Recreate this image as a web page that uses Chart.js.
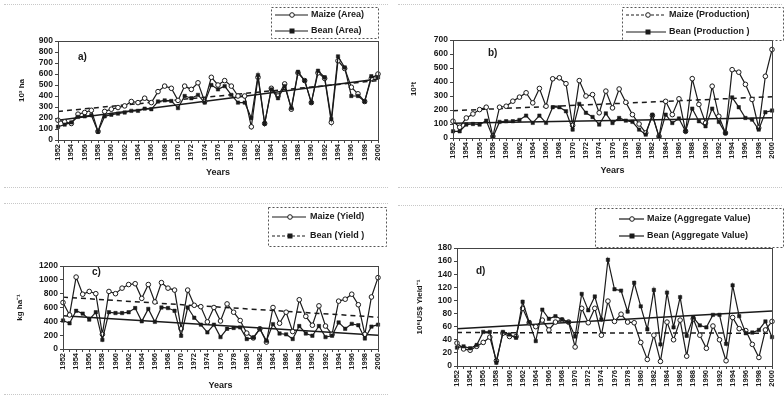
<!DOCTYPE html>
<html>
<head>
<meta charset="utf-8">
<script src="https://cdn.jsdelivr.net/npm/chart.js@4.4.1/dist/chart.umd.min.js"></script>
<style>
  html, body { margin: 0; padding: 0; background: #fff; }
  body { width: 784px; height: 398px; position: relative; overflow: hidden; }
  .panel { position: absolute; }
  .panel canvas { display: block; }
  .frame { position: absolute; border-top: 1px dotted #c8c8c8; border-bottom: 1px dotted #c8c8c8; }
</style>
</head>
<body>
<div class="frame" style="left:4px;top:4px;width:384px;height:182px;"></div>
<div class="frame" style="left:398px;top:4px;width:384px;height:182px;"></div>
<div class="frame" style="left:4px;top:203px;width:384px;height:190px;"></div>
<div class="frame" style="left:398px;top:205px;width:384px;height:192px;"></div>
<div class="panel" style="left:0;top:0;"><canvas id="ca" width="392" height="190"></canvas></div>
<div class="panel" style="left:394px;top:0;"><canvas id="cb" width="390" height="190"></canvas></div>
<div class="panel" style="left:0;top:200px;"><canvas id="cc" width="392" height="198"></canvas></div>
<div class="panel" style="left:394px;top:200px;"><canvas id="cd" width="390" height="198"></canvas></div>
<script>
// ---------- DATA ----------
const years = ['1952','1953','1954','1955','1956','1957','1958','1959','1960','1961',
  '1962','1963','1964','1965','1966','1967','1968','1969','1970','1971',
  '1972','1973','1974','1975','1976','1977','1978','1979','1980','1981',
  '1982','1983','1984','1985','1986','1987','1988','1989','1990','1991',
  '1992','1993','1994','1995','1996','1997','1998','1999','2000'];

// a) Area (10^3 ha)
const maizeArea = [180,165,150,235,250,270,78,260,280,295,
  310,350,340,380,340,440,490,470,360,490,
  460,520,350,570,500,540,490,400,400,120,
  570,150,470,400,510,280,610,540,340,610,
  560,160,720,650,480,420,350,560,600];
const beanArea = [120,140,160,210,215,225,75,215,230,240,
  250,265,265,285,280,350,360,355,290,400,
  380,410,340,500,460,490,410,340,340,200,
  590,150,460,380,490,290,620,540,340,630,
  570,190,760,660,400,400,350,580,570];
const maizeAreaTrend = [260, 540];
const beanAreaTrend = [180, 555];

// b) Production (10^3 t)
const maizeProd = [120,77,143,172,203,220,12,220,227,263,
  292,323,251,354,227,423,430,388,90,410,
  300,310,180,335,215,350,255,167,100,36,
  160,12,262,167,280,48,424,240,107,370,
  155,36,488,470,383,275,72,441,632];
const beanProd = [48,48,96,100,96,124,5,115,120,120,
  129,160,108,160,108,220,220,191,60,244,
  180,150,96,176,107,143,124,115,60,24,
  167,5,167,107,139,48,210,120,84,210,
  115,33,290,220,143,131,60,184,196];
const maizeProdTrend = [195, 295];
const beanProdTrend = [105, 145];

// c) Yield (kg ha^-1)
const maizeYield = [672,492,1040,792,832,800,212,832,800,880,
  932,944,732,932,680,960,880,852,292,852,
  632,612,392,600,405,652,532,412,230,160,
  292,100,600,372,532,252,712,472,344,624,
  332,212,692,720,792,640,212,752,1032];
const beanYield = [412,372,552,512,424,532,132,532,520,520,
  532,592,400,580,392,600,592,552,192,600,
  452,352,240,352,172,292,304,312,144,164,
  292,120,360,224,212,144,332,224,192,332,
  172,192,384,292,364,344,152,324,352];
const maizeYieldTrend = [750, 460];
const beanYieldTrend = [480, 200];

// d) Aggregate value (10^6 US$ Yield^-1)
const maizeValue = [35,26,24,30,36,44,8,50,45,45,
  88,66,60,70,55,67,70,67,29,88,
  66,88,47,99,68,79,67,66,36,10,
  47,7,67,40,70,15,72,47,27,61,
  40,8,74,57,54,33,13,55,68];
const beanValue = [28,30,27,32,52,52,5,52,48,43,
  98,67,38,86,72,76,71,67,45,110,
  85,106,71,162,117,115,83,127,91,56,
  116,33,112,59,105,46,74,62,59,78,
  78,34,123,76,50,51,55,68,44];
const maizeValueTrend = [51, 50];
const beanValueTrend = [57, 84];

// ---------- HELPERS ----------
const INK = '#1a1a1a';
const FONT = "'Liberation Sans', Arial, sans-serif";

const framePlugin = {
  id: 'frameAndLegend',
  afterDraw(chart, args, opts) {
    const ctx = chart.ctx;
    const a = chart.chartArea;
    ctx.save();
    ctx.strokeStyle = '#444';
    ctx.lineWidth = 1;
    ctx.strokeRect(Math.round(a.left) + 0.5, Math.round(a.top) + 0.5,
      Math.round(a.right - a.left), Math.round(a.bottom - a.top));
    ctx.fillStyle = INK;
    ctx.font = "bold 10px " + FONT;
    ctx.textBaseline = 'middle';
    ctx.fillText(opts.letter, opts.letterX, opts.letterY);
    const b = opts.box;
    ctx.setLineDash([2, 2]);
    ctx.strokeStyle = '#555';
    ctx.strokeRect(b.x + 0.5, b.y + 0.5, b.w, b.h);
    ctx.setLineDash([]);
    opts.entries.forEach(e => {
      ctx.strokeStyle = INK;
      ctx.lineWidth = 1.2;
      ctx.setLineDash(e.dash || []);
      ctx.beginPath();
      ctx.moveTo(opts.lx1, e.y);
      ctx.lineTo(opts.lx2, e.y);
      ctx.stroke();
      ctx.setLineDash([]);
      if (e.marker === 'circle') {
        ctx.beginPath();
        ctx.arc(opts.mx, e.y, 2.3, 0, Math.PI * 2);
        ctx.fillStyle = '#fff';
        ctx.fill();
        ctx.lineWidth = 1;
        ctx.stroke();
      } else {
        ctx.fillStyle = INK;
        ctx.fillRect(opts.mx - 2.5, e.y - 2.5, 5, 5);
      }
      ctx.fillStyle = INK;
      ctx.font = "bold " + opts.fontSize + "px " + FONT;
      ctx.textBaseline = 'middle';
      ctx.fillText(e.text, opts.tx, e.y);
    });
    ctx.restore();
  }
};

function trendData(vals) {
  return [{x: years[0], y: vals[0]}, {x: years[years.length - 1], y: vals[1]}];
}

function makePanel(id, p) {
  const canvas = document.getElementById(id);
  const W = canvas.width, H = canvas.height;
  return new Chart(canvas, {
    type: 'line',
    data: {
      labels: years,
      datasets: [
        { label: p.maizeLabel, data: p.maize, borderColor: INK, borderWidth: 1.2,
          pointStyle: 'circle', pointRadius: 2.3, pointBackgroundColor: '#fff',
          pointBorderColor: INK, pointBorderWidth: 1, tension: 0, order: 2 },
        { label: p.beanLabel, data: p.bean, borderColor: INK, borderWidth: 1.2,
          pointStyle: 'rect', pointRadius: 2.4, pointBackgroundColor: INK,
          pointBorderColor: INK, pointBorderWidth: 0.5, tension: 0, order: 1 },
        { label: 'Maize trend', data: trendData(p.maizeTrend), borderColor: INK,
          borderWidth: 1.5, borderDash: [5, 4], pointRadius: 0, order: 3 },
        { label: 'Bean trend', data: trendData(p.beanTrend), borderColor: INK,
          borderWidth: 1.5, pointRadius: 0, order: 3 }
      ]
    },
    options: {
      responsive: false,
      animation: false,
      events: [],
      layout: { padding: { left: p.titleX - 5, top: p.top, right: W - p.right, bottom: H - p.xBottom } },
      plugins: {
        legend: { display: false },
        tooltip: { enabled: false },
        frameAndLegend: p.legend
      },
      scales: {
        x: {
          type: 'category',
          offset: false,
          grid: { display: true, drawOnChartArea: false, tickLength: 3, color: '#444' },
          border: { display: true, color: '#444' },
          ticks: {
            autoSkip: false, minRotation: 90, maxRotation: 90, padding: 1,
            color: INK, font: { family: FONT, size: 7.5, weight: 'bold' },
            callback: function (v, i) { return i % 2 === 0 ? this.getLabelForValue(v) : ''; }
          },
          title: { display: p.showTitle, text: 'Years', color: INK, padding: { top: 2, bottom: 0 },
            font: { family: FONT, size: 9, weight: 'bold' } },
          afterFit: s => { s.height = p.xBottom - p.bottom; }
        },
        y: {
          min: 0, max: p.yMax,
          grid: { display: true, drawOnChartArea: false, tickLength: 3, color: '#444' },
          border: { display: true, color: '#444' },
          ticks: { stepSize: p.yStep, autoSkip: false, color: INK, padding: 2,
            font: { family: FONT, size: 8.5, weight: 'bold' },
            callback: v => String(v) },
          title: { display: true, text: p.yTitle, color: INK, padding: { top: 0, bottom: 2 },
            font: { family: FONT, size: 8, weight: 'bold' } },
          afterFit: s => { s.width = p.left - (p.titleX - 5); }
        }
      }
    },
    plugins: [framePlugin]
  });
}

makePanel('ca', {
  maize: maizeArea, bean: beanArea, maizeTrend: maizeAreaTrend, beanTrend: beanAreaTrend,
  maizeLabel: 'Maize (Area)', beanLabel: 'Bean (Area)',
  left: 58, right: 378, top: 41, bottom: 140, xBottom: 178, titleX: 22, yMax: 900, yStep: 100,
  yTitle: '10³ ha', showTitle: true,
  legend: { letter: 'a)', letterX: 78, letterY: 57,
    box: { x: 271, y: 7, w: 107, h: 31 }, lx1: 275, lx2: 308, mx: 292, tx: 311, fontSize: 9,
    entries: [ { y: 15, marker: 'circle', text: 'Maize (Area)' },
               { y: 31, marker: 'rect', text: 'Bean (Area)' } ] }
});

makePanel('cb', {
  maize: maizeProd, bean: beanProd, maizeTrend: maizeProdTrend, beanTrend: beanProdTrend,
  maizeLabel: 'Maize (Production)', beanLabel: 'Bean (Production )',
  left: 59, right: 378, top: 40, bottom: 138, xBottom: 176, titleX: 20, yMax: 700, yStep: 100,
  yTitle: '10³t', showTitle: true,
  legend: { letter: 'b)', letterX: 94, letterY: 53,
    box: { x: 228, y: 7, w: 161, h: 33 }, lx1: 232, lx2: 272, mx: 254, tx: 275, fontSize: 9,
    entries: [ { y: 15, marker: 'circle', text: 'Maize (Production)', dash: [3, 2] },
               { y: 32, marker: 'rect', text: 'Bean (Production )' } ] }
});

makePanel('cc', {
  maize: maizeYield, bean: beanYield, maizeTrend: maizeYieldTrend, beanTrend: beanYieldTrend,
  maizeLabel: 'Maize (Yield)', beanLabel: 'Bean (Yield )',
  left: 63, right: 378, top: 66, bottom: 149, xBottom: 191, titleX: 20, yMax: 1200, yStep: 200,
  yTitle: 'kg ha⁻¹', showTitle: true,
  legend: { letter: 'c)', letterX: 92, letterY: 72,
    box: { x: 268, y: 7, w: 118, h: 39 }, lx1: 272, lx2: 306, mx: 290, tx: 310, fontSize: 9,
    entries: [ { y: 17, marker: 'circle', text: 'Maize (Yield)' },
               { y: 36, marker: 'rect', text: 'Bean (Yield )', dash: [3, 2] } ] }
});

makePanel('cd', {
  maize: maizeValue, bean: beanValue, maizeTrend: maizeValueTrend, beanTrend: beanValueTrend,
  maizeLabel: 'Maize (Aggregate Value)', beanLabel: 'Bean (Aggregate Value)',
  left: 63, right: 378, top: 48, bottom: 166, xBottom: 198, titleX: 26, yMax: 180, yStep: 20,
  yTitle: '10⁶US$ Yield⁻¹', showTitle: false,
  legend: { letter: 'd)', letterX: 82, letterY: 71,
    box: { x: 201, y: 8, w: 188, h: 39 }, lx1: 225, lx2: 250, mx: 238, tx: 253, fontSize: 9,
    entries: [ { y: 19, marker: 'circle', text: 'Maize (Aggregate Value)' },
               { y: 36, marker: 'rect', text: 'Bean (Aggregate Value)' } ] }
});
</script>
</body>
</html>
